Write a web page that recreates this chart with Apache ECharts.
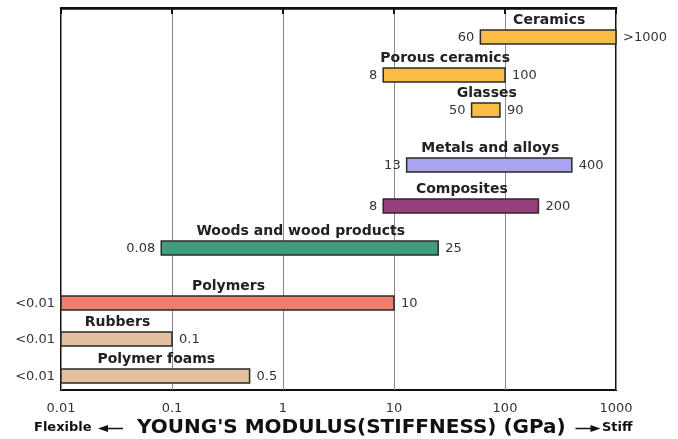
<!DOCTYPE html>
<html>
<head>
<meta charset="utf-8">
<script src="https://cdn.jsdelivr.net/npm/echarts@6/dist/echarts.min.js"></script>
<style>
  html, body { margin: 0; padding: 0; background: #fff; }
  #chart { width: 678px; height: 439px; }
</style>
</head>
<body>
<div id="chart"></div>
<script>
// material classes, top to bottom
var materials = ['Ceramics', 'Porous ceramics', 'Glasses', 'Metals and alloys', 'Composites',
  'Woods and wood products', 'Polymers', 'Rubbers', 'Polymer foams'];
var lowVals = [60, 8, 50, 13, 8, 0.08, 0.01, 0.01, 0.01];
var highVals = [1000, 100, 90, 400, 200, 25, 10, 0.1, 0.5];
var lowLabels = ['60', '8', '50', '13', '8', '0.08', '<0.01', '<0.01', '<0.01'];
var highLabels = ['>1000', '100', '90', '400', '200', '25', '10', '0.1', '0.5'];
// vertical slot of each bar (rows are not evenly spaced)
var rowPos = [1.6, 3.68, 5.61, 8.63, 10.89, 13.19, 16.22, 18.2, 20.23];
var barColors = ['#F9BC45', '#F9BC45', '#F9BC45', '#A9A4EF', '#983F80',
  '#3F9C81', '#EE7D6C', '#E3C09D', '#E3C09D'];
var xTicks = [0.01, 0.1, 1, 10, 100, 1000];

var FONT = '"DejaVu Sans", sans-serif';

var seriesData = materials.map(function (m, i) {
  return [lowVals[i], highVals[i], rowPos[i], i];
});

var chart = echarts.init(document.getElementById('chart'));

// small arrow (line + head) for the flexible / stiff hints under the axis
function arrow(x0, x1, y) {
  var dir = x1 > x0 ? 1 : -1;
  return [
    { type: 'line', shape: { x1: x0, y1: y, x2: x1 - dir * 6, y2: y }, style: { stroke: '#111', lineWidth: 1.5 } },
    { type: 'polygon', shape: { points: [[x1, y], [x1 - dir * 10, y - 3.5], [x1 - dir * 10, y + 3.5]] }, style: { fill: '#111' } }
  ];
}

chart.setOption({
  animation: false,
  grid: {
    left: 61, right: 62, top: 8, bottom: 49,
    show: true, borderColor: '#111', borderWidth: 2
  },
  xAxis: {
    type: 'log',
    logBase: 10,
    min: 0.01,
    max: 1000,
    axisLine: { lineStyle: { color: '#111', width: 2.5 } },
    axisTick: { show: true, length: 6, lineStyle: { color: '#111', width: 2 } },
    axisLabel: {
      color: '#333', fontSize: 13, fontFamily: FONT, margin: 12,
      formatter: function (v) {
        var hit = xTicks.filter(function (t) { return Math.abs(Math.log10(t) - Math.log10(v)) < 1e-6; });
        return hit.length ? String(hit[0]) : '';
      }
    },
    splitLine: { show: true, lineStyle: { color: '#8a8a8a', width: 1 } }
  },
  yAxis: {
    type: 'value',
    inverse: true,
    min: 0,
    max: 21,
    show: false
  },
  series: [{
    type: 'custom',
    clip: false,
    data: seriesData,
    renderItem: function (params, api) {
      var i = api.value(3);
      var p0 = api.coord([api.value(0), api.value(2)]);
      var p1 = api.coord([api.value(1), api.value(2)]);
      var h = 14;
      return {
        type: 'group',
        children: [
          {
            type: 'rect',
            shape: { x: p0[0], y: p0[1] - h / 2, width: p1[0] - p0[0], height: h },
            style: { fill: barColors[i], stroke: '#2a2a2a', lineWidth: 1.5 }
          },
          {
            type: 'text',
            style: {
              x: p0[0] - 6, y: p0[1] + 1, text: lowLabels[i],
              align: 'right', verticalAlign: 'middle',
              fill: '#333', font: '13px ' + FONT
            }
          },
          {
            type: 'text',
            style: {
              x: p1[0] + 7, y: p0[1] + 1, text: highLabels[i],
              align: 'left', verticalAlign: 'middle',
              fill: '#333', font: '13px ' + FONT
            }
          },
          {
            type: 'text',
            style: {
              x: (p0[0] + p1[0]) / 2 + 1, y: p0[1] - h / 2 - 3, text: materials[i],
              align: 'center', verticalAlign: 'bottom',
              fill: '#222', font: 'bold 14px ' + FONT
            }
          }
        ]
      };
    }
  }],
  graphic: [
    {
      type: 'text', left: 34, top: 421,
      style: { text: 'Flexible', fill: '#111', font: 'bold 13px ' + FONT }
    },
    {
      type: 'group', left: 98, top: 425,
      children: arrow(25, 0, 3.5)
    },
    {
      type: 'text', left: 137, top: 418,
      style: { text: "YOUNG'S MODULUS(STIFFNESS) (GPa)", fill: '#111', font: 'bold 20px ' + FONT }
    },
    {
      type: 'group', left: 573, top: 425,
      children: arrow(0, 25, 3.5)
    },
    {
      type: 'text', left: 602, top: 421,
      style: { text: 'Stiff', fill: '#111', font: 'bold 13px ' + FONT }
    }
  ]
});
</script>
</body>
</html>
